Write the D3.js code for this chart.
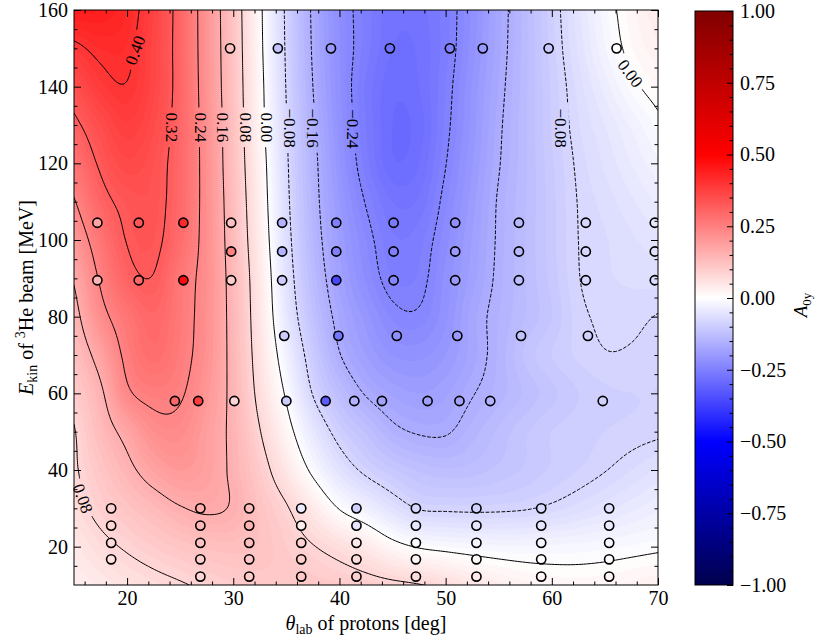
<!DOCTYPE html>
<html>
<head>
<meta charset="utf-8">
<script src="https://cdn.jsdelivr.net/npm/d3@7/dist/d3.min.js"></script>
<style>
html,body{margin:0;padding:0;background:#fff;}
svg text{font-family:"Liberation Serif","Times New Roman",serif;fill:#000;}
</style>
</head>
<body>
<svg id="chart" width="817" height="642" xmlns="http://www.w3.org/2000/svg"></svg>
<script>
// ---------------- data ----------------
const thetaGrid = [15,17.5,20,22.5,25,27.5,30,32.5,35,37.5,40,42.5,45,47.5,50,52.5,55,57.5,60,62.5,65,67.5,70];
const energyGrid = [10,20,30,40,50,60,70,80,90,100,110,120,130,140,150,160];
// A0y on the grid: one row per energy (10 ... 160 MeV), one column per theta
const A0yGrid = [
 [0.030,0.042,0.055,0.066,0.076,0.088,0.098,0.104,0.107,0.106,0.103,0.097,0.090,0.082,0.068,0.050,0.035,0.024,0.018,0.016,0.018,0.023,0.030],
 [0.045,0.068,0.085,0.100,0.113,0.122,0.125,0.118,0.100,0.082,0.063,0.042,0.014,-0.003,-0.010,-0.015,-0.018,-0.019,-0.018,-0.016,-0.013,-0.009,-0.005],
 [0.065,0.093,0.115,0.136,0.157,0.166,0.155,0.116,0.084,0.041,-0.002,-0.029,-0.059,-0.082,-0.085,-0.086,-0.085,-0.082,-0.075,-0.065,-0.054,-0.043,-0.032],
 [0.074,0.111,0.147,0.182,0.200,0.186,0.150,0.101,0.047,-0.009,-0.056,-0.088,-0.108,-0.122,-0.128,-0.125,-0.117,-0.108,-0.098,-0.090,-0.081,-0.070,-0.058],
 [0.077,0.132,0.177,0.220,0.225,0.190,0.147,0.082,0.018,-0.046,-0.094,-0.122,-0.151,-0.163,-0.163,-0.145,-0.128,-0.112,-0.100,-0.094,-0.090,-0.087,-0.084],
 [0.098,0.151,0.231,0.254,0.245,0.204,0.144,0.065,-0.006,-0.082,-0.128,-0.163,-0.182,-0.190,-0.182,-0.162,-0.145,-0.128,-0.113,-0.100,-0.092,-0.090,-0.090],
 [0.120,0.182,0.253,0.285,0.257,0.214,0.141,0.055,-0.027,-0.102,-0.158,-0.190,-0.210,-0.213,-0.200,-0.175,-0.148,-0.118,-0.100,-0.088,-0.081,-0.082,-0.087],
 [0.141,0.221,0.270,0.298,0.262,0.216,0.139,0.048,-0.046,-0.120,-0.172,-0.205,-0.232,-0.236,-0.212,-0.175,-0.150,-0.130,-0.110,-0.085,-0.077,-0.076,-0.081],
 [0.165,0.247,0.305,0.318,0.267,0.218,0.136,0.044,-0.056,-0.132,-0.184,-0.222,-0.250,-0.248,-0.217,-0.185,-0.154,-0.130,-0.106,-0.081,-0.072,-0.068,-0.066],
 [0.200,0.271,0.322,0.330,0.286,0.218,0.131,0.036,-0.064,-0.140,-0.192,-0.230,-0.258,-0.254,-0.224,-0.189,-0.156,-0.130,-0.104,-0.080,-0.071,-0.062,-0.053],
 [0.236,0.302,0.332,0.335,0.293,0.218,0.127,0.030,-0.070,-0.145,-0.200,-0.242,-0.270,-0.268,-0.232,-0.195,-0.157,-0.131,-0.104,-0.079,-0.066,-0.052,-0.038],
 [0.273,0.327,0.357,0.340,0.295,0.217,0.122,0.025,-0.074,-0.148,-0.208,-0.255,-0.288,-0.280,-0.241,-0.201,-0.162,-0.132,-0.102,-0.076,-0.058,-0.040,-0.022],
 [0.309,0.350,0.378,0.352,0.298,0.215,0.120,0.018,-0.078,-0.154,-0.214,-0.260,-0.290,-0.285,-0.247,-0.206,-0.165,-0.132,-0.099,-0.071,-0.050,-0.028,-0.007],
 [0.345,0.385,0.398,0.362,0.300,0.211,0.117,0.015,-0.082,-0.160,-0.218,-0.262,-0.287,-0.280,-0.250,-0.209,-0.169,-0.133,-0.098,-0.066,-0.036,-0.007,0.012],
 [0.390,0.410,0.408,0.364,0.299,0.209,0.115,0.011,-0.085,-0.164,-0.219,-0.255,-0.280,-0.278,-0.254,-0.215,-0.173,-0.134,-0.095,-0.058,-0.021,0.009,0.028],
 [0.445,0.440,0.420,0.369,0.299,0.208,0.113,0.009,-0.087,-0.166,-0.221,-0.254,-0.276,-0.274,-0.254,-0.218,-0.175,-0.134,-0.093,-0.053,-0.014,0.016,0.040]
];

const contourLevels = [-0.24,-0.16,-0.08,0.00,0.08,0.16,0.24,0.32,0.40];

// inline contour labels
const labelText   = ["0.40","0.32","0.24","0.16","0.08","0.00","\u22120.08","\u22120.16","\u22120.24","\u22120.08","0.00","0.08"];
const labelTheta  = [20.75,24.22,26.95,29.0,31.2,33.2,35.3,37.5,41.27,60.9,67.4,15.85];
const labelEnergy = [149.5,129.4,129.4,129.4,129.4,129.4,129.2,129.2,129.0,129.2,143.5,32.6];
const labelAngle  = [-70,90,90,90,90,90,90,90,90,90,53,70];

// measured points: theta [deg], beam energy [MeV], measured A0y
const pointTheta = [
 29.7,34.2,39.2,44.75,50.4,53.5,59.7,66.1,
 17.2,21.1,25.3,29.8,34.6,39.7,45.1,50.9,56.9,63.2,69.7,
 29.8,34.6,39.7,45.1,50.9,56.9,63.2,69.7,
 17.2,21.1,25.3,29.8,34.6,39.7,45.1,50.9,56.9,63.2,69.7,
 34.8,39.9,45.4,51.1,57.1,63.4,
 24.5,26.7,30.1,35.0,38.7,41.4,44.0,48.3,51.3,54.2,64.8,
 18.5,18.5,18.5,18.5,
 26.9,26.9,26.9,26.9,26.9,
 31.5,31.5,31.5,31.5,31.5,
 36.4,36.4,36.4,36.4,36.4,
 41.6,41.6,41.6,41.6,41.6,
 47.2,47.2,47.2,47.2,47.2,
 52.9,52.9,52.9,52.9,52.9,
 59.0,59.0,59.0,59.0,59.0,
 65.4,65.4,65.4,65.4,65.4
];
const pointEnergy = [
 150,150,150,150,150,150,150,150,
 104.5,104.5,104.5,104.5,104.5,104.5,104.5,104.5,104.5,104.5,104.5,
 97,97,97,97,97,97,97,97,
 89.5,89.5,89.5,89.5,89.5,89.5,89.5,89.5,89.5,89.5,89.5,
 75,75,75,75,75,75,
 58,58,58,58,58,58,58,58,58,58,58,
 30,25.5,21,16.7,
 30,25.5,21,16.7,12.2,
 30,25.5,21,16.7,12.2,
 30,25.5,21,16.7,12.2,
 30,25.5,21,16.7,12.2,
 30,25.5,21,16.7,12.2,
 30,25.5,21,16.7,12.2,
 30,25.5,21,16.7,12.2,
 30,25.5,21,16.7,12.2
];
const pointA0y = [
 0.12,-0.12,-0.20,-0.28,-0.25,-0.20,-0.11,0.00,
 0.18,0.33,0.42,0.12,-0.15,-0.25,-0.26,-0.22,-0.14,-0.08,-0.045,
 0.25,-0.15,-0.25,-0.25,-0.20,-0.14,-0.08,-0.06,
 0.15,0.30,0.48,0.10,-0.10,-0.36,-0.24,-0.20,-0.13,-0.08,-0.07,
 -0.10,-0.27,-0.22,-0.20,-0.12,-0.09,
 0.30,0.38,0.08,-0.10,-0.32,-0.15,-0.18,-0.19,-0.18,-0.15,-0.09,
 0.09,0.08,0.07,0.06,
 0.16,0.14,0.12,0.10,0.085,
 0.13,0.15,0.13,0.11,0.10,
 -0.04,0.04,0.09,0.10,0.105,
 -0.09,-0.05,0.04,0.07,0.095,
 -0.08,-0.05,-0.01,0.02,0.07,
 -0.09,-0.05,-0.02,0.01,0.04,
 -0.08,-0.05,-0.02,0.00,0.02,
 -0.06,-0.04,-0.015,0.005,0.02
];

const xTicks = [20,30,40,50,60,70];
const yTicks = [20,40,60,80,100,120,140,160];
const cbTicks = [-1,-0.75,-0.5,-0.25,0,0.25,0.5,0.75,1];

// ---------------- layout ----------------
const W = 817, H = 642;
const L = 74, R = 658, T = 10, B = 585;
const CBL = 695, CBR = 733, CBT = 11, CBB = 585;
const FONT = "Liberation Serif, Times New Roman, serif";

const x = d3.scaleLinear().domain([15,70]).range([L,R]);
const y = d3.scaleLinear().domain([10,160]).range([B,T]);
const color = d3.scaleLinear().domain([-1,-0.5,0,0.5,1])
  .range(["#00004d","#0000ff","#ffffff","#ff0000","#800000"]).clamp(true);

const svg = d3.select("#chart");
const defs = svg.append("defs");
defs.append("clipPath").attr("id","plotClip")
  .append("rect").attr("x",L).attr("y",T).attr("width",R-L).attr("height",B-T);

// ---------------- smooth rendering of the grid (bicubic) ----------------
const nT = thetaGrid.length, nE = energyGrid.length;
const dTg = thetaGrid[1]-thetaGrid[0], dEg = energyGrid[1]-energyGrid[0];
function gi(row,i){ if(i<0) return 2*row[0]-row[1]; if(i>=nT) return 2*row[nT-1]-row[nT-2]; return row[i]; }
function gij(j,i){
  if(j<0) return 2*gi(A0yGrid[0],i)-gi(A0yGrid[1],i);
  if(j>=nE) return 2*gi(A0yGrid[nE-1],i)-gi(A0yGrid[nE-2],i);
  return gi(A0yGrid[j],i);
}
function cr(p0,p1,p2,p3,t){
  return 0.5*((2*p1)+(-p0+p2)*t+(2*p0-5*p1+4*p2-p3)*t*t+(-p0+3*p1-3*p2+p3)*t*t*t);
}
function field(th,e){
  const u=(th-thetaGrid[0])/dTg, v=(e-energyGrid[0])/dEg;
  const i=Math.max(0,Math.min(nT-2,Math.floor(u))), j=Math.max(0,Math.min(nE-2,Math.floor(v)));
  const tu=u-i, tv=v-j;
  const r=[];
  for(let m=-1;m<=2;m++) r.push(cr(gij(j+m,i-1),gij(j+m,i),gij(j+m,i+1),gij(j+m,i+2),tu));
  return cr(r[0],r[1],r[2],r[3],tv);
}
const fdT = 0.25, fdE = 0.5;
const nx = Math.round((70-15)/fdT)+1, ny = Math.round((160-10)/fdE)+1;
const fine = new Float64Array(nx*ny);
for(let j=0;j<ny;j++) for(let i=0;i<nx;i++) fine[j*nx+i] = field(15+i*fdT, 10+j*fdE);

const X = c => x(15 + (c-0.5)*fdT);
const Y = c => y(10 + (c-0.5)*fdE);
function polyPath(coords){
  let d="";
  for(const poly of coords) for(const ring of poly){
    ring.forEach((p,k)=>{ d += (k?"L":"M")+X(p[0]).toFixed(2)+","+Y(p[1]).toFixed(2); });
    d += "Z";
  }
  return d;
}
function onEdgePair(a,b){
  return (a[0]===0&&b[0]===0)||(a[0]===nx&&b[0]===nx)||(a[1]===0&&b[1]===0)||(a[1]===ny&&b[1]===ny);
}
function linePath(coords){
  let d="";
  for(const poly of coords) for(const ring of poly){
    let pen=false;
    for(let k=1;k<ring.length;k++){
      const a=ring[k-1], b=ring[k];
      if(onEdgePair(a,b)){ pen=false; continue; }
      if(!pen){ d += "M"+X(a[0]).toFixed(2)+","+Y(a[1]).toFixed(2); pen=true; }
      d += "L"+X(b[0]).toFixed(2)+","+Y(b[1]).toFixed(2);
    }
  }
  return d;
}

// ---------------- filled field ----------------
const plot = svg.append("g").attr("clip-path","url(#plotClip)");
const bandStep = 0.01;
const bandTh = d3.range(-0.40, 0.50, bandStep);
plot.append("rect").attr("x",L).attr("y",T).attr("width",R-L).attr("height",B-T)
  .attr("fill", color(bandTh[0]-bandStep/2));
const bands = d3.contours().size([nx,ny]).thresholds(bandTh)(fine);
plot.append("g").selectAll("path").data(bands).join("path")
  .attr("d", g => polyPath(g.coordinates))
  .attr("fill", g => color(g.value + bandStep/2))
  .attr("fill-rule","evenodd")
  .attr("stroke", g => color(g.value + bandStep/2))
  .attr("stroke-width",0.3);

// ---------------- contour lines (with gaps for labels) ----------------
const mask = defs.append("mask").attr("id","lblMask").attr("maskUnits","userSpaceOnUse")
  .attr("x",0).attr("y",0).attr("width",W).attr("height",H);
mask.append("rect").attr("x",0).attr("y",0).attr("width",W).attr("height",H).attr("fill","#fff");

const lines = d3.contours().size([nx,ny]).thresholds(contourLevels)(fine);
plot.append("g").attr("mask","url(#lblMask)").selectAll("path").data(lines).join("path")
  .attr("d", g => linePath(g.coordinates))
  .attr("fill","none").attr("stroke","#000").attr("stroke-width",1)
  .attr("stroke-dasharray", g => g.value < -1e-9 ? "3.7,1.6" : null);

// ---------------- measured points ----------------
plot.append("g").selectAll("circle").data(pointTheta.map((t,k)=>({t, e:pointEnergy[k], a:pointA0y[k]})))
  .join("circle")
  .attr("cx", d => x(d.t)).attr("cy", d => y(d.e)).attr("r",4.6)
  .attr("fill", d => color(d.a)).attr("stroke","#000").attr("stroke-width",1.6);

// ---------------- contour labels ----------------
const lblG = svg.append("g");
labelText.forEach((t,k)=>{
  const tr = `translate(${x(labelTheta[k]).toFixed(2)},${y(labelEnergy[k]).toFixed(2)}) rotate(${labelAngle[k]})`;
  const tx = lblG.append("text").attr("transform",tr).attr("text-anchor","middle")
    .attr("dy","0.35em").attr("font-size",17).attr("font-family",FONT).text(t);
  const len = tx.node().getComputedTextLength();
  mask.append("rect").attr("transform",tr).attr("x",-len/2-5).attr("y",-7.5)
    .attr("width",len+10).attr("height",15).attr("fill","#000");
});

// ---------------- frame & axes ----------------
svg.append("rect").attr("x",L).attr("y",T).attr("width",R-L).attr("height",B-T)
  .attr("fill","none").attr("stroke","#000").attr("stroke-width",1);

const xMinor = d3.range(16,70.01,2).filter(v=>v%10!==0);
const yMinor = d3.range(15,160.01,5).filter(v=>v%20!==0);
function styleAxis(g){
  g.select(".domain").remove();
  g.attr("font-family",FONT).attr("font-size",20);
  g.selectAll("line").attr("stroke","#000").attr("stroke-width",1);
}
svg.append("g").attr("transform",`translate(0,${B})`)
  .call(d3.axisBottom(x).tickValues(xTicks).tickSize(-7).tickPadding(6).tickFormat(d3.format("d"))).call(styleAxis);
svg.append("g").attr("transform",`translate(0,${B})`)
  .call(d3.axisBottom(x).tickValues(xMinor).tickSize(-3.5).tickFormat("")).call(styleAxis);
svg.append("g").attr("transform",`translate(0,${T})`)
  .call(d3.axisTop(x).tickValues(xTicks).tickSize(-7).tickFormat("")).call(styleAxis);
svg.append("g").attr("transform",`translate(0,${T})`)
  .call(d3.axisTop(x).tickValues(xMinor).tickSize(-3.5).tickFormat("")).call(styleAxis);
svg.append("g").attr("transform",`translate(${L},0)`)
  .call(d3.axisLeft(y).tickValues(yTicks).tickSize(-7).tickPadding(6).tickFormat(d3.format("d"))).call(styleAxis);
svg.append("g").attr("transform",`translate(${L},0)`)
  .call(d3.axisLeft(y).tickValues(yMinor).tickSize(-3.5).tickFormat("")).call(styleAxis);
svg.append("g").attr("transform",`translate(${R},0)`)
  .call(d3.axisRight(y).tickValues(yTicks).tickSize(-7).tickFormat("")).call(styleAxis);
svg.append("g").attr("transform",`translate(${R},0)`)
  .call(d3.axisRight(y).tickValues(yMinor).tickSize(-3.5).tickFormat("")).call(styleAxis);

// axis titles
const xt = svg.append("text").attr("x",(L+R)/2).attr("y",630).attr("text-anchor","middle")
  .attr("font-size",20).attr("font-family",FONT);
xt.append("tspan").attr("font-style","italic").text("\u03b8");
xt.append("tspan").attr("font-size",14).attr("dy",4).text("lab");
xt.append("tspan").attr("dy",-4).text(" of protons [deg]");

const yt = svg.append("text").attr("transform",`translate(32.5,${(T+B)/2}) rotate(-90)`)
  .attr("text-anchor","middle").attr("font-size",20).attr("font-family",FONT);
yt.append("tspan").attr("font-style","italic").text("E");
yt.append("tspan").attr("font-size",14).attr("dy",4).text("kin");
yt.append("tspan").attr("dy",-4).text(" of ");
yt.append("tspan").attr("font-size",14).attr("dy",-8).text("3");
yt.append("tspan").attr("dy",8).text("He beam [MeV]");

// ---------------- colorbar ----------------
const cb = d3.scaleLinear().domain([-1,1]).range([CBB,CBT]);
const grad = defs.append("linearGradient").attr("id","cbGrad")
  .attr("x1",0).attr("y1",1).attr("x2",0).attr("y2",0);
color.domain().forEach(v=>{
  grad.append("stop").attr("offset",((v+1)/2)).attr("stop-color",color(v));
});
svg.append("rect").attr("x",CBL).attr("y",CBT).attr("width",CBR-CBL).attr("height",CBB-CBT)
  .attr("fill","url(#cbGrad)").attr("stroke","#000").attr("stroke-width",1);
svg.append("g").attr("transform",`translate(${CBR},0)`)
  .call(d3.axisRight(cb).tickValues(cbTicks).tickSize(-6).tickPadding(7).tickFormat(d3.format(".2f"))).call(styleAxis);
svg.append("g").attr("transform",`translate(${CBR},0)`)
  .call(d3.axisRight(cb).tickValues(d3.range(-1,1.0001,0.05).filter(v=>Math.abs(v*4-Math.round(v*4))>1e-6)).tickSize(-3.5).tickFormat("")).call(styleAxis);

const ct = svg.append("text").attr("transform",`translate(807,305) rotate(-90)`)
  .attr("text-anchor","middle").attr("font-size",19).attr("font-family",FONT);
ct.append("tspan").attr("font-style","italic").text("A");
ct.append("tspan").attr("font-size",13).attr("dy",4).text("0y");
</script>
</body>
</html>
